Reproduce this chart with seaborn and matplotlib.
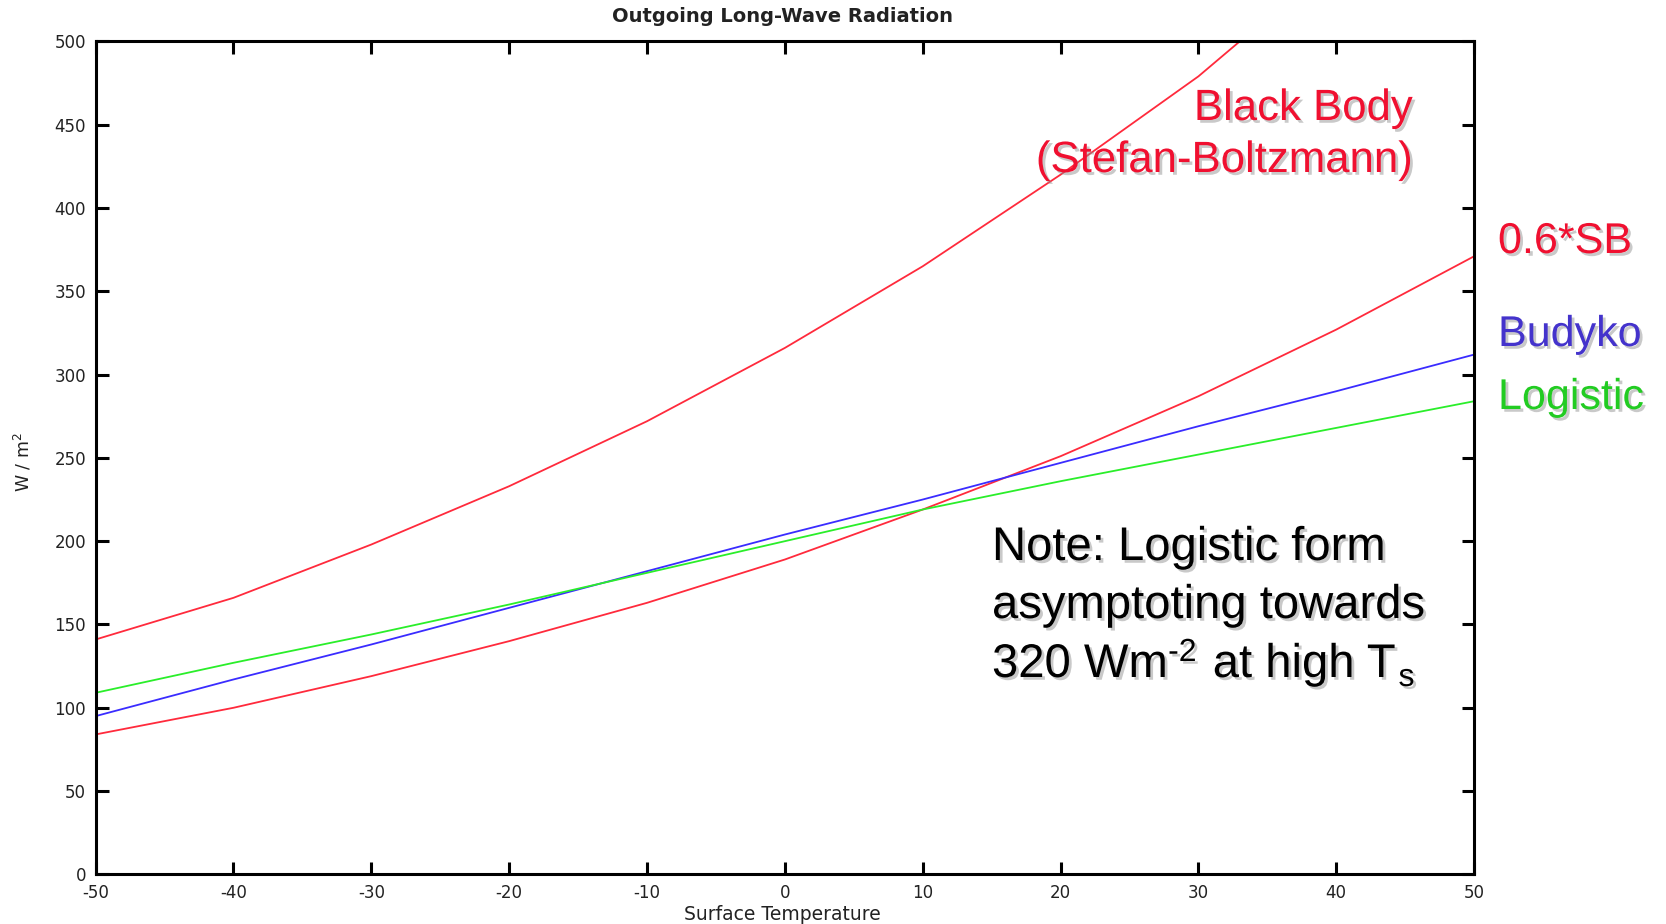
import numpy as np
import pandas as pd
import matplotlib
matplotlib.use("Agg")
import matplotlib.pyplot as plt
import matplotlib.patheffects as pe
import seaborn as sns

# values, every 10 degrees
temps      = [-50, -40, -30, -20, -10, 0, 10, 20, 30, 40, 50]
black_body = [141, 166, 198, 233, 272, 316, 365, 420, 479, 549, 620]
sb_06      = [84, 100, 119, 140, 163, 189, 219, 251, 287, 327, 371]
budyko     = [95, 117, 138, 160, 182, 204, 225, 247, 269, 290, 312]
logistic   = [109, 127, 144, 162, 181, 200, 219, 236, 252, 268, 284]

x_ticks = [-50, -40, -30, -20, -10, 0, 10, 20, 30, 40, 50]
y_ticks = [0, 50, 100, 150, 200, 250, 300, 350, 400, 450, 500]

RED   = "#ff2a3c"
BLUE  = "#3a2cff"
GREEN = "#2aee2a"

sns.set_theme(style="ticks")
plt.rcParams["font.family"] = ["DejaVu Sans"]
plt.rcParams["axes.unicode_minus"] = False

df = pd.DataFrame({
    "T": temps * 4,
    "OLR": black_body + sb_06 + budyko + logistic,
    "model": (["bb"] * len(temps) + ["sb06"] * len(temps)
              + ["budyko"] * len(temps) + ["logistic"] * len(temps)),
})

fig = plt.figure(figsize=(16.66, 9.24), dpi=100)
ax = fig.add_axes([0.0574, 0.0537, 0.8274, 0.9015])

sns.lineplot(data=df, x="T", y="OLR", hue="model",
             palette={"bb": RED, "sb06": RED, "budyko": BLUE, "logistic": GREEN},
             hue_order=["bb", "sb06", "budyko", "logistic"],
             linewidth=1.3, legend=False, ax=ax)

ax.set_xlim(-50, 50)
ax.set_ylim(0, 500)
ax.set_xticks(x_ticks)
ax.set_yticks(y_ticks)
ax.set_xlabel("")
ax.set_ylabel("")
ax.tick_params(direction="in", length=9, width=2.2, top=True, right=True,
               labelsize=12, pad=7, colors="black", labelcolor="#222222")
for s in ax.spines.values():
    s.set_linewidth(2.2)
    s.set_color("black")

W, H = 1666, 924
def fx(px): return px / W
def fy(py): return 1 - py / H

fig.text(fx(782), fy(17), "Outgoing Long-Wave Radiation", ha="center", va="center",
         fontsize=14, fontweight="bold", color="#222222")
fig.text(fx(782), fy(915), "Surface Temperature", ha="center", va="center",
         fontsize=13.5, color="#222222")
fig.text(fx(23), fy(462), "W / m$^2$", ha="center", va="center", rotation=90,
         fontsize=12.5, color="#222222")

shadow = [pe.SimplePatchShadow(offset=(2, -2), shadow_rgbFace="#888888", alpha=0.45),
          pe.Normal()]
ann = dict(family=["Liberation Sans", "DejaVu Sans"], path_effects=shadow)

fig.text(fx(1413), fy(120), "Black Body", ha="right", va="baseline",
         fontsize=31.5, color="#f01030", **ann)
fig.text(fx(1413), fy(172), "(Stefan-Boltzmann)", ha="right", va="baseline",
         fontsize=31.5, color="#f01030", **ann)
fig.text(fx(1498), fy(253), "0.6*SB", ha="left", va="baseline",
         fontsize=31, color="#f01030", **ann)
fig.text(fx(1498), fy(346), "Budyko", ha="left", va="baseline",
         fontsize=31, color="#4433cc", **ann)
fig.text(fx(1498), fy(409), "Logistic", ha="left", va="baseline",
         fontsize=31, color="#22cc22", **ann)

fig.text(fx(992), fy(560), "Note: Logistic form", ha="left", va="baseline",
         fontsize=34, color="black", **ann)
fig.text(fx(992), fy(618), "asymptoting towards", ha="left", va="baseline",
         fontsize=34, color="black", **ann)

# third line built from pieces so the superscript keeps a plain hyphen
r = fig.canvas.get_renderer()
x0 = fx(992)
parts = [("320 Wm", 34, 0), ("-2", 23, 16), (" at high T", 34, 0), ("s", 23, -9)]
for txt, size, dy in parts:
    t = fig.text(x0, fy(677 - dy), txt, ha="left", va="baseline",
                 fontsize=size, color="black", **ann)
    bb = t.get_window_extent(renderer=r)
    x0 += bb.width / W
    if txt in ("-2", " at high T"):
        x0 += 3 / W

fig.savefig("out.png", dpi=100)
